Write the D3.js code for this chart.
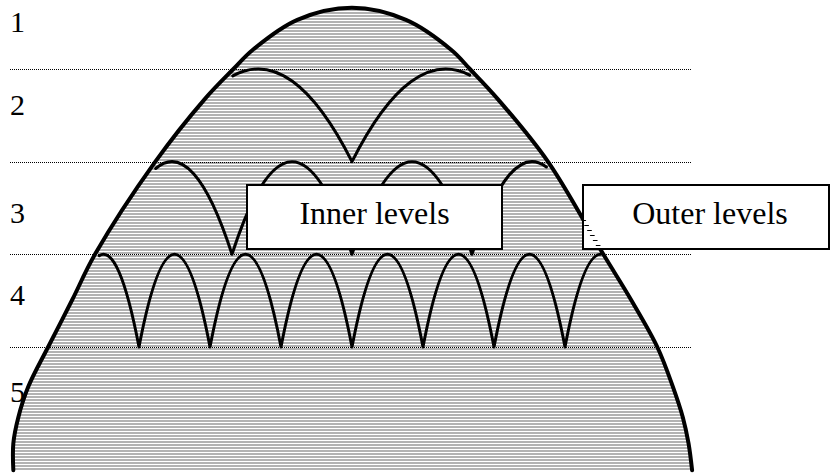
<!DOCTYPE html>
<meta charset="utf-8">

<head>
  <script src="https://d3js.org/d3.v7.min.js"></script>
</head>
<style>
  body {
    margin: 0;
    background: #fff;
  }

  text {
    font-family: "Liberation Serif", "Times New Roman", serif;
    fill: #000;
  }
</style>

<body>
  <script>
    // level names on the left and where they sit (in level units)
    var levels = ["1", "2", "3", "4", "5"];
    var labelAt = [0.60, 1.50, 2.66, 3.55, 4.59];
    // dotted separators between the levels
    var boundaries = [1, 2, 3, 4];

    // big arch outline: depth in levels, left / right offset in arch units
    var outlineDepth = [0.34, 0.47, 0.795, 1.0, 1.33, 2.0, 3.0, 3.49, 4.0, 4.43, 4.76, 5.04, 5.33];
    var outlineLeft = [0, -0.77, -1.40, -1.67, -2.08, -2.77, -3.62, -3.94, -4.28, -4.56, -4.70, -4.77, -4.77];
    var outlineRight = [0, 0.76, 1.40, 1.66, 2.06, 2.76, 3.54, 3.93, 4.30, 4.52, 4.66, 4.74, 4.79];

    // small arches: row (level), peak positions, half width
    var arcRows = [2, 3, 4];
    var arcPeaks = [
      [-1.32, 1.32],
      [-2.535, -0.845, 0.845, 2.535],
      [-3.5, -2.5, -1.5, -0.5, 0.5, 1.5, 2.5, 3.5]
    ];
    var arcHalfWidth = [1.32, 0.845, 0.5];

    var boxLabels = ["Inner levels", "Outer levels"];

    var width = 830, height = 474;

    var svg = d3.select("body").append("svg")
      .attr("width", width)
      .attr("height", height);

    var x = d3.scaleLinear().domain([-4, 4]).range([68, 636]);
    var y = d3.scaleLinear().domain([1, 4]).range([69, 347]);

    // outline points: left side bottom -> top, then right side top -> bottom
    var pts = outlineDepth.map(function (d, i) { return [outlineLeft[i], d]; }).reverse()
      .concat(outlineDepth.slice(1).map(function (d, i) { return [outlineRight[i + 1], d]; }));

    var line = d3.line()
      .x(function (d) { return x(d[0]); })
      .y(function (d) { return y(d[1]); })
      .curve(d3.curveCatmullRom.alpha(0.5));

    var defs = svg.append("defs");

    // horizontal hatching
    var hatch = defs.append("pattern")
      .attr("id", "hatch")
      .attr("patternUnits", "userSpaceOnUse")
      .attr("width", 8)
      .attr("height", 3);
    hatch.append("rect").attr("width", 8).attr("height", 3).attr("fill", "#fff");
    hatch.append("rect").attr("width", 8).attr("height", 2).attr("fill", "#b2b2b2");

    // sparse dashes for the outline showing through the outer box
    var dash = defs.append("pattern")
      .attr("id", "dash")
      .attr("patternUnits", "userSpaceOnUse")
      .attr("width", 8)
      .attr("height", 5);
    dash.append("rect").attr("width", 8).attr("height", 1).attr("fill", "#000");

    defs.append("clipPath").attr("id", "shape")
      .append("path").attr("d", line(pts) + "Z");

    // hatched body of the arch
    var body = svg.append("path")
      .attr("d", line(pts) + "Z")
      .attr("fill", "url(#hatch)");

    // sample the outline so arch legs can stop where they reach it
    var node = body.node(), len = node.getTotalLength(), poly = [];
    for (var s = 0; s <= len; s += 1.5) {
      var q = node.getPointAtLength(s);
      poly.push([q.x, q.y]);
    }
    function outlineDist(p) {
      if (!d3.polygonContains(poly, p)) return 0;
      var m = Infinity;
      for (var i = 0; i < poly.length; i++) {
        var dx = poly[i][0] - p[0], dy = poly[i][1] - p[1];
        m = Math.min(m, dx * dx + dy * dy);
      }
      return Math.sqrt(m);
    }

    // dotted level separators
    svg.selectAll(".sep")
      .data(boundaries)
      .enter().append("line")
      .attr("class", "sep")
      .attr("x1", 10)
      .attr("x2", 692)
      .attr("y1", function (d) { return Math.round(y(d)) + 0.5; })
      .attr("y2", function (d) { return Math.round(y(d)) + 0.5; })
      .attr("stroke", "#000")
      .attr("stroke-width", 1)
      .attr("stroke-dasharray", "1,1");

    function quadPoint(p0, c, p2, t) {
      return [(1 - t) * (1 - t) * p0[0] + 2 * t * (1 - t) * c[0] + t * t * p2[0],
      (1 - t) * (1 - t) * p0[1] + 2 * t * (1 - t) * c[1] + t * t * p2[1]];
    }

    // piece [a, b] of a quadratic bezier
    function quadPiece(p, p0, c, p2, a, b, first) {
      var k0 = (1 - a) * (1 - b), k1 = (1 - a) * b + a * (1 - b), k2 = a * b;
      var s = quadPoint(p0, c, p2, a), e = quadPoint(p0, c, p2, b);
      if (first) p.moveTo(s[0], s[1]);
      p.quadraticCurveTo(k0 * p0[0] + k1 * c[0] + k2 * p2[0],
        k0 * p0[1] + k1 * c[1] + k2 * p2[1], e[0], e[1]);
    }

    // walk from the peak outwards until the leg touches the outline
    function legStop(p0, c, p2, dir) {
      var prev = Infinity, t;
      for (t = 0.5; t > 0 && t < 1; t += dir * 0.004) {
        var d = outlineDist(quadPoint(p0, c, p2, t));
        if (d < 4.5 || (d > prev && prev < 15)) break;
        prev = d;
      }
      return Math.max(0, Math.min(1, t));
    }

    // rows of small arches; the outer legs of the end arches stop at the outline
    var arcs = svg.append("g").attr("clip-path", "url(#shape)");
    arcRows.forEach(function (row, r) {
      var hw = arcHalfWidth[r];
      var top = y(row - 1), bot = y(row);
      var p = d3.path();
      var n = arcPeaks[r].length;
      arcPeaks[r].forEach(function (pk, i) {
        var p0 = [x(pk - hw), bot], c = [x(pk), 2 * top - bot], p2 = [x(pk + hw), bot];
        var a = i === 0 ? legStop(p0, c, p2, -1) : 0;
        var b = i === n - 1 ? legStop(p0, c, p2, 1) : 1;
        quadPiece(p, p0, c, p2, a, b, i === 0);
      });
      arcs.append("path")
        .attr("d", p.toString())
        .attr("fill", "none")
        .attr("stroke", "#000")
        .attr("stroke-width", 3)
        .attr("stroke-linejoin", "round")
        .attr("stroke-linecap", "round");
    });

    // outline of the big arch
    svg.append("path")
      .attr("d", line(pts))
      .attr("fill", "none")
      .attr("stroke", "#000")
      .attr("stroke-width", 4)
      .attr("stroke-linecap", "round");

    // level numbers
    svg.selectAll(".lvl")
      .data(levels)
      .enter().append("text")
      .attr("class", "lvl")
      .attr("x", 10)
      .attr("y", function (d, i) { return y(labelAt[i]); })
      .attr("font-size", 30)
      .text(function (d) { return d; });

    // label boxes
    var boxes = [
      { x: 247, y: 185, w: 255, h: 64, dx: 0 },
      { x: 583, y: 185, w: 246, h: 64, dx: 4 }
    ];
    var box = svg.selectAll(".box")
      .data(boxes)
      .enter().append("g")
      .attr("class", "box");
    box.append("rect")
      .attr("x", function (d) { return d.x; })
      .attr("y", function (d) { return d.y; })
      .attr("width", function (d) { return d.w; })
      .attr("height", function (d) { return d.h; })
      .attr("fill", "#fff")
      .attr("stroke", "#000")
      .attr("stroke-width", 2);
    box.append("text")
      .attr("x", function (d) { return d.x + d.w / 2 + d.dx; })
      .attr("y", function (d) { return d.y + 39; })
      .attr("text-anchor", "middle")
      .attr("font-size", 32)
      .text(function (d, i) { return boxLabels[i]; });

    // outline faintly showing through the outer box
    defs.append("clipPath").attr("id", "outerClip")
      .append("rect").attr("x", 584).attr("y", 186).attr("width", 244).attr("height", 62);
    svg.append("path")
      .attr("d", line(pts))
      .attr("fill", "none")
      .attr("stroke", "url(#dash)")
      .attr("stroke-width", 4)
      .attr("clip-path", "url(#outerClip)");
  </script>
</body>
